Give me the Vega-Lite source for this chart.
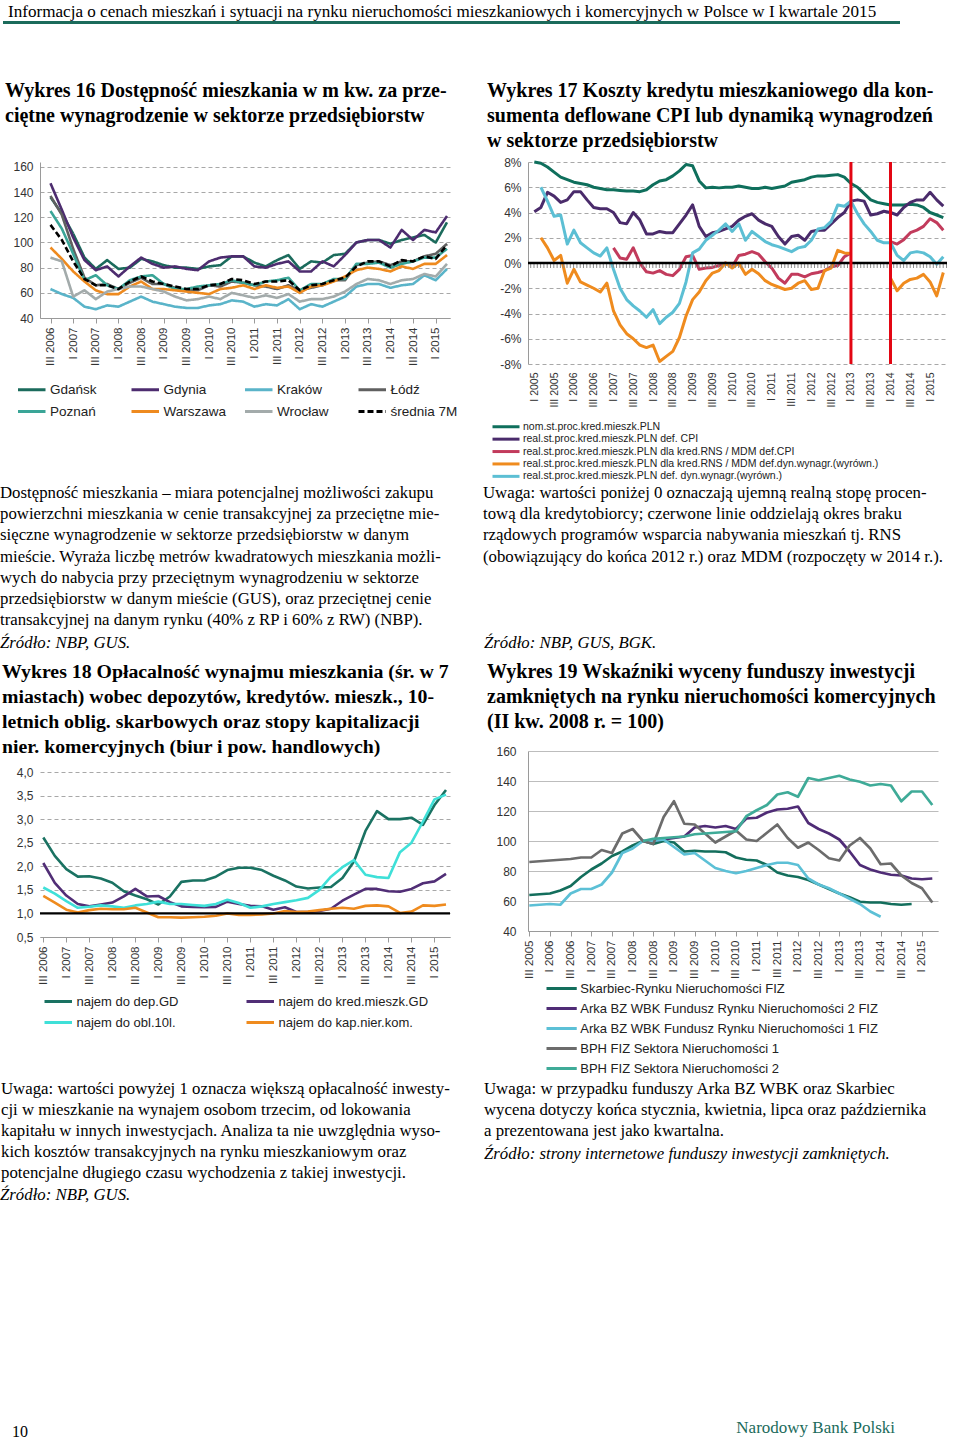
{
"$schema":"https://vega.github.io/schema/vega-lite/v6.json",
"background":"white",
"padding":0,
"spacing":0,
"config":{
 "view":{"stroke":null},
 "font":"Liberation Sans",
 "text":{"font":"Liberation Serif","color":"#000"},
 "axis":{"labelFont":"Liberation Sans","labelFontSize":12,"labelColor":"#333","domainColor":"#9a9a9a","tickColor":"#9a9a9a","gridColor":"#a8a8a8","labelOverlap":false},
 "legend":{"labelFont":"Liberation Sans","labelColor":"#222","padding":0,"symbolStrokeWidth":3,"labelLimit":600}
},
"vconcat":[
{
 "width":897,"height":40,
 "layer":[
  {"data":{"values":[{"n":0,"t":"Informacja o cenach mieszkań i sytuacji na rynku nieruchomości mieszkaniowych i komercyjnych w Polsce w I kwartale 2015"}]},
   "mark":{"type":"text","align":"left","baseline":"middle","fontSize":17.1,"dx":-32},
   "encoding":{"x":{"datum":0,"scale":{"domain":[0,1]},"axis":null},"y":{"field":"n","type":"quantitative","scale":{"domain":[-11.5,28.5],"reverse":true,"nice":false,"zero":false},"axis":null},"text":{"field":"t"}}},
  {"data":{"values":[{"n":0}]},
   "mark":{"type":"rule","color":"#1b6b5b","strokeWidth":3,"xOffset":-37,"x2Offset":-37},
   "encoding":{"x":{"datum":0},"x2":{"datum":1},"y":{"field":"n","type":"quantitative","scale":{"domain":[-22.5,17.5],"reverse":true,"nice":false,"zero":false},"axis":null}}}
 ],
 "resolve":{"scale":{"y":"independent"}}
},
{
 "columns":2,"bounds":"flush","align":"each","spacing":{"row":0,"column":78},
 "resolve":{"scale":{"color":"independent","strokeDash":"independent","strokeWidth":"independent"},"legend":{"color":"independent","strokeDash":"independent","strokeWidth":"independent"}},
 "concat":[
 {
  "width":410,"height":122,
  "data":{"values":[{"n":0,"t":"Wykres 16 Dostępność mieszkania w m kw. za prze-"},{"n":1,"t":"ciętne wynagrodzenie w sektorze przedsiębiorstw"}]},
  "mark":{"type":"text","align":"left","baseline":"middle","fontSize":20,"fontWeight":"bold","dx":-35},
  "encoding":{"x":{"datum":0,"scale":{"domain":[0,1]},"axis":null},"y":{"field":"n","type":"quantitative","scale":{"domain":[-2.04,2.84],"reverse":true,"nice":false,"zero":false},"axis":null},"text":{"field":"t"}}
 },
 {
  "width":419,"height":122,
  "data":{"values":[{"n":0,"t":"Wykres 17 Koszty kredytu mieszkaniowego dla kon-"},{"n":1,"t":"sumenta deflowane CPI lub dynamiką wynagrodzeń"},{"n":2,"t":"w sektorze przedsiębiorstw"}]},
  "mark":{"type":"text","align":"left","baseline":"middle","fontSize":20,"fontWeight":"bold","dx":-41},
  "encoding":{"x":{"datum":0,"scale":{"domain":[0,1]},"axis":null},"y":{"field":"n","type":"quantitative","scale":{"domain":[-2.04,2.84],"reverse":true,"nice":false,"zero":false},"axis":null},"text":{"field":"t"}}
 },
 {
  "width":410,"height":156,
  "data":{"values":[
{"q":"III 2006","s":"Gdańsk","v":136},{"q":"IV 2006","s":"Gdańsk","v":123},{"q":"I 2007","s":"Gdańsk","v":107},{"q":"II 2007","s":"Gdańsk","v":88},{"q":"III 2007","s":"Gdańsk","v":79},{"q":"IV 2007","s":"Gdańsk","v":86},{"q":"I 2008","s":"Gdańsk","v":79},{"q":"II 2008","s":"Gdańsk","v":80},{"q":"III 2008","s":"Gdańsk","v":87},{"q":"IV 2008","s":"Gdańsk","v":85},{"q":"I 2009","s":"Gdańsk","v":82},{"q":"II 2009","s":"Gdańsk","v":80},{"q":"III 2009","s":"Gdańsk","v":80},{"q":"IV 2009","s":"Gdańsk","v":79},{"q":"I 2010","s":"Gdańsk","v":81},{"q":"II 2010","s":"Gdańsk","v":82},{"q":"III 2010","s":"Gdańsk","v":89},{"q":"IV 2010","s":"Gdańsk","v":89},{"q":"I 2011","s":"Gdańsk","v":84},{"q":"II 2011","s":"Gdańsk","v":81},{"q":"III 2011","s":"Gdańsk","v":86},{"q":"IV 2011","s":"Gdańsk","v":90},{"q":"I 2012","s":"Gdańsk","v":79},{"q":"II 2012","s":"Gdańsk","v":85},{"q":"III 2012","s":"Gdańsk","v":84},{"q":"IV 2012","s":"Gdańsk","v":90},{"q":"I 2013","s":"Gdańsk","v":91},{"q":"II 2013","s":"Gdańsk","v":100},{"q":"III 2013","s":"Gdańsk","v":102},{"q":"IV 2013","s":"Gdańsk","v":102},{"q":"I 2014","s":"Gdańsk","v":99},{"q":"II 2014","s":"Gdańsk","v":102},{"q":"III 2014","s":"Gdańsk","v":104},{"q":"IV 2014","s":"Gdańsk","v":106},{"q":"I 2015","s":"Gdańsk","v":100},{"q":"II 2015","s":"Gdańsk","v":116},
{"q":"III 2006","s":"Gdynia","v":147},{"q":"IV 2006","s":"Gdynia","v":126},{"q":"I 2007","s":"Gdynia","v":104},{"q":"II 2007","s":"Gdynia","v":86},{"q":"III 2007","s":"Gdynia","v":78},{"q":"IV 2007","s":"Gdynia","v":81},{"q":"I 2008","s":"Gdynia","v":73},{"q":"II 2008","s":"Gdynia","v":81},{"q":"III 2008","s":"Gdynia","v":88},{"q":"IV 2008","s":"Gdynia","v":83},{"q":"I 2009","s":"Gdynia","v":80},{"q":"II 2009","s":"Gdynia","v":81},{"q":"III 2009","s":"Gdynia","v":79},{"q":"IV 2009","s":"Gdynia","v":78},{"q":"I 2010","s":"Gdynia","v":85},{"q":"II 2010","s":"Gdynia","v":88},{"q":"III 2010","s":"Gdynia","v":89},{"q":"IV 2010","s":"Gdynia","v":89},{"q":"I 2011","s":"Gdynia","v":81},{"q":"II 2011","s":"Gdynia","v":80},{"q":"III 2011","s":"Gdynia","v":83},{"q":"IV 2011","s":"Gdynia","v":85},{"q":"I 2012","s":"Gdynia","v":77},{"q":"II 2012","s":"Gdynia","v":77},{"q":"III 2012","s":"Gdynia","v":85},{"q":"IV 2012","s":"Gdynia","v":81},{"q":"I 2013","s":"Gdynia","v":90},{"q":"II 2013","s":"Gdynia","v":100},{"q":"III 2013","s":"Gdynia","v":102},{"q":"IV 2013","s":"Gdynia","v":102},{"q":"I 2014","s":"Gdynia","v":96},{"q":"II 2014","s":"Gdynia","v":110},{"q":"III 2014","s":"Gdynia","v":102},{"q":"IV 2014","s":"Gdynia","v":110},{"q":"I 2015","s":"Gdynia","v":108},{"q":"II 2015","s":"Gdynia","v":121},
{"q":"III 2006","s":"Kraków","v":63},{"q":"IV 2006","s":"Kraków","v":59},{"q":"I 2007","s":"Kraków","v":56},{"q":"II 2007","s":"Kraków","v":49},{"q":"III 2007","s":"Kraków","v":47},{"q":"IV 2007","s":"Kraków","v":50},{"q":"I 2008","s":"Kraków","v":49},{"q":"II 2008","s":"Kraków","v":53},{"q":"III 2008","s":"Kraków","v":57},{"q":"IV 2008","s":"Kraków","v":53},{"q":"I 2009","s":"Kraków","v":51},{"q":"II 2009","s":"Kraków","v":49},{"q":"III 2009","s":"Kraków","v":48},{"q":"IV 2009","s":"Kraków","v":48},{"q":"I 2010","s":"Kraków","v":50},{"q":"II 2010","s":"Kraków","v":51},{"q":"III 2010","s":"Kraków","v":54},{"q":"IV 2010","s":"Kraków","v":53},{"q":"I 2011","s":"Kraków","v":49},{"q":"II 2011","s":"Kraków","v":51},{"q":"III 2011","s":"Kraków","v":50},{"q":"IV 2011","s":"Kraków","v":55},{"q":"I 2012","s":"Kraków","v":47},{"q":"II 2012","s":"Kraków","v":51},{"q":"III 2012","s":"Kraków","v":49},{"q":"IV 2012","s":"Kraków","v":53},{"q":"I 2013","s":"Kraków","v":57},{"q":"II 2013","s":"Kraków","v":65},{"q":"III 2013","s":"Kraków","v":67},{"q":"IV 2013","s":"Kraków","v":67},{"q":"I 2014","s":"Kraków","v":64},{"q":"II 2014","s":"Kraków","v":66},{"q":"III 2014","s":"Kraków","v":67},{"q":"IV 2014","s":"Kraków","v":74},{"q":"I 2015","s":"Kraków","v":70},{"q":"II 2015","s":"Kraków","v":79},
{"q":"III 2006","s":"Łódź","v":137},{"q":"IV 2006","s":"Łódź","v":122},{"q":"I 2007","s":"Łódź","v":95},{"q":"II 2007","s":"Łódź","v":72},{"q":"III 2007","s":"Łódź","v":66},{"q":"IV 2007","s":"Łódź","v":67},{"q":"I 2008","s":"Łódź","v":63},{"q":"II 2008","s":"Łódź","v":68},{"q":"III 2008","s":"Łódź","v":72},{"q":"IV 2008","s":"Łódź","v":67},{"q":"I 2009","s":"Łódź","v":67},{"q":"II 2009","s":"Łódź","v":64},{"q":"III 2009","s":"Łódź","v":62},{"q":"IV 2009","s":"Łódź","v":62},{"q":"I 2010","s":"Łódź","v":66},{"q":"II 2010","s":"Łódź","v":65},{"q":"III 2010","s":"Łódź","v":69},{"q":"IV 2010","s":"Łódź","v":68},{"q":"I 2011","s":"Łódź","v":66},{"q":"II 2011","s":"Łódź","v":65},{"q":"III 2011","s":"Łódź","v":63},{"q":"IV 2011","s":"Łódź","v":66},{"q":"I 2012","s":"Łódź","v":62},{"q":"II 2012","s":"Łódź","v":64},{"q":"III 2012","s":"Łódź","v":66},{"q":"IV 2012","s":"Łódź","v":70},{"q":"I 2013","s":"Łódź","v":70},{"q":"II 2013","s":"Łódź","v":82},{"q":"III 2013","s":"Łódź","v":84},{"q":"IV 2013","s":"Łódź","v":85},{"q":"I 2014","s":"Łódź","v":82},{"q":"II 2014","s":"Łódź","v":85},{"q":"III 2014","s":"Łódź","v":85},{"q":"IV 2014","s":"Łódź","v":89},{"q":"I 2015","s":"Łódź","v":91},{"q":"II 2015","s":"Łódź","v":99},
{"q":"III 2006","s":"Poznań","v":125},{"q":"IV 2006","s":"Poznań","v":111},{"q":"I 2007","s":"Poznań","v":91},{"q":"II 2007","s":"Poznań","v":70},{"q":"III 2007","s":"Poznań","v":74},{"q":"IV 2007","s":"Poznań","v":66},{"q":"I 2008","s":"Poznań","v":63},{"q":"II 2008","s":"Poznań","v":70},{"q":"III 2008","s":"Poznań","v":73},{"q":"IV 2008","s":"Poznań","v":74},{"q":"I 2009","s":"Poznań","v":67},{"q":"II 2009","s":"Poznań","v":63},{"q":"III 2009","s":"Poznań","v":63},{"q":"IV 2009","s":"Poznań","v":65},{"q":"I 2010","s":"Poznań","v":66},{"q":"II 2010","s":"Poznań","v":67},{"q":"III 2010","s":"Poznań","v":70},{"q":"IV 2010","s":"Poznań","v":68},{"q":"I 2011","s":"Poznań","v":66},{"q":"II 2011","s":"Poznań","v":69},{"q":"III 2011","s":"Poznań","v":70},{"q":"IV 2011","s":"Poznań","v":72},{"q":"I 2012","s":"Poznań","v":62},{"q":"II 2012","s":"Poznań","v":67},{"q":"III 2012","s":"Poznań","v":67},{"q":"IV 2012","s":"Poznań","v":71},{"q":"I 2013","s":"Poznań","v":71},{"q":"II 2013","s":"Poznań","v":83},{"q":"III 2013","s":"Poznań","v":83},{"q":"IV 2013","s":"Poznań","v":84},{"q":"I 2014","s":"Poznań","v":80},{"q":"II 2014","s":"Poznań","v":83},{"q":"III 2014","s":"Poznań","v":85},{"q":"IV 2014","s":"Poznań","v":88},{"q":"I 2015","s":"Poznań","v":88},{"q":"II 2015","s":"Poznań","v":95},
{"q":"III 2006","s":"Warszawa","v":96},{"q":"IV 2006","s":"Warszawa","v":87},{"q":"I 2007","s":"Warszawa","v":77},{"q":"II 2007","s":"Warszawa","v":69},{"q":"III 2007","s":"Warszawa","v":62},{"q":"IV 2007","s":"Warszawa","v":59},{"q":"I 2008","s":"Warszawa","v":59},{"q":"II 2008","s":"Warszawa","v":65},{"q":"III 2008","s":"Warszawa","v":69},{"q":"IV 2008","s":"Warszawa","v":63},{"q":"I 2009","s":"Warszawa","v":63},{"q":"II 2009","s":"Warszawa","v":62},{"q":"III 2009","s":"Warszawa","v":61},{"q":"IV 2009","s":"Warszawa","v":60},{"q":"I 2010","s":"Warszawa","v":59},{"q":"II 2010","s":"Warszawa","v":63},{"q":"III 2010","s":"Warszawa","v":64},{"q":"IV 2010","s":"Warszawa","v":66},{"q":"I 2011","s":"Warszawa","v":63},{"q":"II 2011","s":"Warszawa","v":66},{"q":"III 2011","s":"Warszawa","v":64},{"q":"IV 2011","s":"Warszawa","v":65},{"q":"I 2012","s":"Warszawa","v":60},{"q":"II 2012","s":"Warszawa","v":65},{"q":"III 2012","s":"Warszawa","v":66},{"q":"IV 2012","s":"Warszawa","v":69},{"q":"I 2013","s":"Warszawa","v":73},{"q":"II 2013","s":"Warszawa","v":78},{"q":"III 2013","s":"Warszawa","v":80},{"q":"IV 2013","s":"Warszawa","v":79},{"q":"I 2014","s":"Warszawa","v":77},{"q":"II 2014","s":"Warszawa","v":81},{"q":"III 2014","s":"Warszawa","v":79},{"q":"IV 2014","s":"Warszawa","v":83},{"q":"I 2015","s":"Warszawa","v":83},{"q":"II 2015","s":"Warszawa","v":90},
{"q":"III 2006","s":"Wrocław","v":88},{"q":"IV 2006","s":"Wrocław","v":85},{"q":"I 2007","s":"Wrocław","v":57},{"q":"II 2007","s":"Wrocław","v":62},{"q":"III 2007","s":"Wrocław","v":55},{"q":"IV 2007","s":"Wrocław","v":61},{"q":"I 2008","s":"Wrocław","v":63},{"q":"II 2008","s":"Wrocław","v":65},{"q":"III 2008","s":"Wrocław","v":65},{"q":"IV 2008","s":"Wrocław","v":63},{"q":"I 2009","s":"Wrocław","v":61},{"q":"II 2009","s":"Wrocław","v":57},{"q":"III 2009","s":"Wrocław","v":54},{"q":"IV 2009","s":"Wrocław","v":55},{"q":"I 2010","s":"Wrocław","v":57},{"q":"II 2010","s":"Wrocław","v":55},{"q":"III 2010","s":"Wrocław","v":60},{"q":"IV 2010","s":"Wrocław","v":58},{"q":"I 2011","s":"Wrocław","v":56},{"q":"II 2011","s":"Wrocław","v":58},{"q":"III 2011","s":"Wrocław","v":56},{"q":"IV 2011","s":"Wrocław","v":59},{"q":"I 2012","s":"Wrocław","v":53},{"q":"II 2012","s":"Wrocław","v":55},{"q":"III 2012","s":"Wrocław","v":55},{"q":"IV 2012","s":"Wrocław","v":57},{"q":"I 2013","s":"Wrocław","v":61},{"q":"II 2013","s":"Wrocław","v":67},{"q":"III 2013","s":"Wrocław","v":71},{"q":"IV 2013","s":"Wrocław","v":70},{"q":"I 2014","s":"Wrocław","v":67},{"q":"II 2014","s":"Wrocław","v":70},{"q":"III 2014","s":"Wrocław","v":71},{"q":"IV 2014","s":"Wrocław","v":75},{"q":"I 2015","s":"Wrocław","v":73},{"q":"II 2015","s":"Wrocław","v":83},
{"q":"III 2006","s":"średnia 7M","v":114},{"q":"IV 2006","s":"średnia 7M","v":102},{"q":"I 2007","s":"średnia 7M","v":85},{"q":"II 2007","s":"średnia 7M","v":71},{"q":"III 2007","s":"średnia 7M","v":66},{"q":"IV 2007","s":"średnia 7M","v":66},{"q":"I 2008","s":"średnia 7M","v":63},{"q":"II 2008","s":"średnia 7M","v":69},{"q":"III 2008","s":"średnia 7M","v":73},{"q":"IV 2008","s":"średnia 7M","v":69},{"q":"I 2009","s":"średnia 7M","v":67},{"q":"II 2009","s":"średnia 7M","v":65},{"q":"III 2009","s":"średnia 7M","v":63},{"q":"IV 2009","s":"średnia 7M","v":63},{"q":"I 2010","s":"średnia 7M","v":66},{"q":"II 2010","s":"średnia 7M","v":67},{"q":"III 2010","s":"średnia 7M","v":71},{"q":"IV 2010","s":"średnia 7M","v":70},{"q":"I 2011","s":"średnia 7M","v":67},{"q":"II 2011","s":"średnia 7M","v":69},{"q":"III 2011","s":"średnia 7M","v":69},{"q":"IV 2011","s":"średnia 7M","v":70},{"q":"I 2012","s":"średnia 7M","v":62},{"q":"II 2012","s":"średnia 7M","v":66},{"q":"III 2012","s":"średnia 7M","v":67},{"q":"IV 2012","s":"średnia 7M","v":70},{"q":"I 2013","s":"średnia 7M","v":72},{"q":"II 2013","s":"średnia 7M","v":81},{"q":"III 2013","s":"średnia 7M","v":85},{"q":"IV 2013","s":"średnia 7M","v":85},{"q":"I 2014","s":"średnia 7M","v":81},{"q":"II 2014","s":"średnia 7M","v":86},{"q":"III 2014","s":"średnia 7M","v":85},{"q":"IV 2014","s":"średnia 7M","v":89},{"q":"I 2015","s":"średnia 7M","v":87},{"q":"II 2015","s":"średnia 7M","v":98}
  ]},
  "mark":{"type":"line","strokeWidth":2.6,"strokeJoin":"round"},
  "encoding":{
   "x":{"field":"q","type":"ordinal","sort":null,"scale":{"type":"point","padding":0.596,"align":0.778},"axis":{"values":["III 2006","I 2007","III 2007","I 2008","III 2008","I 2009","III 2009","I 2010","III 2010","I 2011","III 2011","I 2012","III 2012","I 2013","III 2013","I 2014","III 2014","I 2015"],"labelAngle":-90,"labelFontSize":11.5,"labelPadding":4,"tickSize":5,"title":null,"grid":false}},
   "y":{"field":"v","type":"quantitative","scale":{"domain":[40,163.97],"nice":false,"zero":false},"axis":{"values":[40,60,80,100,120,140,160],"tickCount":50,"title":null,"grid":true,"gridDash":[4,3],"ticks":false,"labelPadding":7}},
   "color":{"field":"s","type":"nominal","scale":{"domain":["Gdańsk","Gdynia","Kraków","Łódź","Poznań","Warszawa","Wrocław","średnia 7M"],"range":["#1b6b5c","#4d2c6f","#5ab4c9","#606060","#3aa597","#ee8a1f","#a3abab","#000000"]},
     "legend":{"orient":"none","legendX":-7,"legendY":220.5,"columns":4,"direction":"horizontal","title":null,"symbolType":"M-4,0H1","symbolSize":121,"symbolStrokeWidth":3,"labelFontSize":13.5,"labelOffset":3,"columnPadding":8.5,"rowPadding":8,"gridAlign":"all"}},
   "strokeDash":{"field":"s","type":"nominal","scale":{"domain":["Gdańsk","Gdynia","Kraków","Łódź","Poznań","Warszawa","Wrocław","średnia 7M"],"range":[[1,0],[1,0],[1,0],[1,0],[1,0],[1,0],[1,0],[6,3]]},
     "legend":{"orient":"none","legendX":-7,"legendY":220.5,"columns":4,"direction":"horizontal","title":null,"symbolType":"M-4,0H1","symbolSize":121,"symbolStrokeWidth":3,"labelFontSize":13.5,"labelOffset":3,"columnPadding":8.5,"rowPadding":8,"gridAlign":"all"}}
  }
 },
 {
  "width":419,"height":202,
  "layer":[
  {
   "data":{"values":[
{"m":"2005-01","s":"a","v":8.0},{"m":"2005-03","s":"a","v":7.9},{"m":"2005-05","s":"a","v":7.6},{"m":"2005-07","s":"a","v":7.2},{"m":"2005-09","s":"a","v":6.8},{"m":"2005-11","s":"a","v":6.6},{"m":"2006-01","s":"a","v":6.4},{"m":"2006-03","s":"a","v":6.3},{"m":"2006-05","s":"a","v":6.2},{"m":"2006-07","s":"a","v":6.0},{"m":"2006-09","s":"a","v":5.9},{"m":"2006-11","s":"a","v":5.8},{"m":"2007-01","s":"a","v":5.8},{"m":"2007-03","s":"a","v":5.75},{"m":"2007-05","s":"a","v":5.7},{"m":"2007-07","s":"a","v":5.7},{"m":"2007-09","s":"a","v":5.65},{"m":"2007-11","s":"a","v":5.8},{"m":"2008-01","s":"a","v":6.2},{"m":"2008-03","s":"a","v":6.5},{"m":"2008-05","s":"a","v":6.6},{"m":"2008-07","s":"a","v":6.9},{"m":"2008-09","s":"a","v":7.3},{"m":"2008-11","s":"a","v":7.8},{"m":"2009-01","s":"a","v":7.7},{"m":"2009-03","s":"a","v":6.5},{"m":"2009-05","s":"a","v":5.95},{"m":"2009-07","s":"a","v":6.0},{"m":"2009-09","s":"a","v":5.95},{"m":"2009-11","s":"a","v":6.0},{"m":"2010-01","s":"a","v":6.0},{"m":"2010-03","s":"a","v":6.1},{"m":"2010-05","s":"a","v":6.0},{"m":"2010-07","s":"a","v":5.9},{"m":"2010-09","s":"a","v":5.9},{"m":"2010-11","s":"a","v":6.0},{"m":"2011-01","s":"a","v":5.9},{"m":"2011-03","s":"a","v":6.0},{"m":"2011-05","s":"a","v":6.1},{"m":"2011-07","s":"a","v":6.4},{"m":"2011-09","s":"a","v":6.5},{"m":"2011-11","s":"a","v":6.6},{"m":"2012-01","s":"a","v":6.8},{"m":"2012-03","s":"a","v":6.9},{"m":"2012-05","s":"a","v":6.9},{"m":"2012-07","s":"a","v":6.95},{"m":"2012-09","s":"a","v":7.0},{"m":"2012-11","s":"a","v":6.8},{"m":"2013-01","s":"a","v":6.3},{"m":"2013-03","s":"a","v":6.0},{"m":"2013-05","s":"a","v":5.5},{"m":"2013-07","s":"a","v":5.0},{"m":"2013-09","s":"a","v":4.8},{"m":"2013-11","s":"a","v":4.7},{"m":"2014-01","s":"a","v":4.6},{"m":"2014-03","s":"a","v":4.6},{"m":"2014-05","s":"a","v":4.6},{"m":"2014-07","s":"a","v":4.65},{"m":"2014-09","s":"a","v":4.6},{"m":"2014-11","s":"a","v":4.4},{"m":"2015-01","s":"a","v":4.0},{"m":"2015-03","s":"a","v":3.8},{"m":"2015-05","s":"a","v":3.6},
{"m":"2005-01","s":"b","v":4.05},{"m":"2005-03","s":"b","v":4.4},{"m":"2005-05","s":"b","v":5.6},{"m":"2005-07","s":"b","v":5.3},{"m":"2005-09","s":"b","v":4.8},{"m":"2005-11","s":"b","v":5.0},{"m":"2006-01","s":"b","v":5.65},{"m":"2006-03","s":"b","v":5.65},{"m":"2006-05","s":"b","v":5.0},{"m":"2006-07","s":"b","v":4.4},{"m":"2006-09","s":"b","v":4.3},{"m":"2006-11","s":"b","v":4.3},{"m":"2007-01","s":"b","v":4.0},{"m":"2007-03","s":"b","v":3.2},{"m":"2007-05","s":"b","v":3.1},{"m":"2007-07","s":"b","v":4.0},{"m":"2007-09","s":"b","v":3.4},{"m":"2007-11","s":"b","v":2.3},{"m":"2008-01","s":"b","v":2.3},{"m":"2008-03","s":"b","v":2.5},{"m":"2008-05","s":"b","v":2.4},{"m":"2008-07","s":"b","v":2.4},{"m":"2008-09","s":"b","v":3.1},{"m":"2008-11","s":"b","v":3.8},{"m":"2009-01","s":"b","v":4.6},{"m":"2009-03","s":"b","v":2.9},{"m":"2009-05","s":"b","v":2.1},{"m":"2009-07","s":"b","v":2.4},{"m":"2009-09","s":"b","v":2.5},{"m":"2009-11","s":"b","v":2.7},{"m":"2010-01","s":"b","v":2.9},{"m":"2010-03","s":"b","v":3.4},{"m":"2010-05","s":"b","v":3.7},{"m":"2010-07","s":"b","v":3.9},{"m":"2010-09","s":"b","v":3.4},{"m":"2010-11","s":"b","v":3.1},{"m":"2011-01","s":"b","v":2.9},{"m":"2011-03","s":"b","v":2.1},{"m":"2011-05","s":"b","v":1.5},{"m":"2011-07","s":"b","v":2.1},{"m":"2011-09","s":"b","v":2.2},{"m":"2011-11","s":"b","v":1.8},{"m":"2012-01","s":"b","v":2.5},{"m":"2012-03","s":"b","v":2.6},{"m":"2012-05","s":"b","v":2.6},{"m":"2012-07","s":"b","v":3.1},{"m":"2012-09","s":"b","v":3.6},{"m":"2012-11","s":"b","v":4.0},{"m":"2013-01","s":"b","v":4.9},{"m":"2013-03","s":"b","v":5.0},{"m":"2013-05","s":"b","v":4.9},{"m":"2013-07","s":"b","v":3.8},{"m":"2013-09","s":"b","v":3.9},{"m":"2013-11","s":"b","v":4.1},{"m":"2014-01","s":"b","v":4.0},{"m":"2014-03","s":"b","v":3.8},{"m":"2014-05","s":"b","v":4.4},{"m":"2014-07","s":"b","v":4.8},{"m":"2014-09","s":"b","v":5.0},{"m":"2014-11","s":"b","v":5.0},{"m":"2015-01","s":"b","v":5.6},{"m":"2015-03","s":"b","v":5.0},{"m":"2015-05","s":"b","v":4.5},
{"m":"2007-01","s":"c","v":1.2},{"m":"2007-03","s":"c","v":0.4},{"m":"2007-05","s":"c","v":0.3},{"m":"2007-07","s":"c","v":1.2},{"m":"2007-09","s":"c","v":0.0},{"m":"2007-11","s":"c","v":-0.7},{"m":"2008-01","s":"c","v":-0.8},{"m":"2008-03","s":"c","v":-0.6},{"m":"2008-05","s":"c","v":-0.9},{"m":"2008-07","s":"c","v":-1.0},{"m":"2008-09","s":"c","v":-0.5},{"m":"2008-11","s":"c","v":0.5},{"m":"2009-01","s":"c","v":0.6},{"m":"2009-03","s":"c","v":-0.5},{"m":"2009-05","s":"c","v":-0.4},{"m":"2009-07","s":"c","v":-0.35},{"m":"2009-09","s":"c","v":-0.2},{"m":"2009-11","s":"c","v":0.0},{"m":"2010-01","s":"c","v":-0.3},{"m":"2010-03","s":"c","v":0.6},{"m":"2010-05","s":"c","v":0.7},{"m":"2010-07","s":"c","v":0.9},{"m":"2010-09","s":"c","v":0.7},{"m":"2010-11","s":"c","v":0.1},{"m":"2011-01","s":"c","v":-0.4},{"m":"2011-03","s":"c","v":-1.2},{"m":"2011-05","s":"c","v":-1.6},{"m":"2011-07","s":"c","v":-0.9},{"m":"2011-09","s":"c","v":-0.9},{"m":"2011-11","s":"c","v":-1.1},{"m":"2012-01","s":"c","v":-0.85},{"m":"2012-03","s":"c","v":-0.75},{"m":"2012-05","s":"c","v":-0.6},{"m":"2012-07","s":"c","v":-0.3},{"m":"2012-09","s":"c","v":-0.2},{"m":"2012-11","s":"c","v":0.5},{"m":"2013-01","s":"c","v":0.8},
{"m":"2014-01","s":"c","v":1.7,"g":2},{"m":"2014-03","s":"c","v":1.5,"g":2},{"m":"2014-05","s":"c","v":1.85,"g":2},{"m":"2014-07","s":"c","v":2.4,"g":2},{"m":"2014-09","s":"c","v":2.6,"g":2},{"m":"2014-11","s":"c","v":2.9,"g":2},{"m":"2015-01","s":"c","v":3.5,"g":2},{"m":"2015-03","s":"c","v":3.2,"g":2},{"m":"2015-05","s":"c","v":2.6,"g":2},
{"m":"2005-03","s":"d","v":2.0},{"m":"2005-05","s":"d","v":1.2},{"m":"2005-07","s":"d","v":0.2},{"m":"2005-09","s":"d","v":0.6},{"m":"2005-11","s":"d","v":-1.6},{"m":"2006-01","s":"d","v":-0.5},{"m":"2006-03","s":"d","v":-1.5},{"m":"2006-05","s":"d","v":-1.75},{"m":"2006-07","s":"d","v":-2.0},{"m":"2006-09","s":"d","v":-2.3},{"m":"2006-11","s":"d","v":-1.6},{"m":"2007-01","s":"d","v":-3.8},{"m":"2007-03","s":"d","v":-4.9},{"m":"2007-05","s":"d","v":-5.6},{"m":"2007-07","s":"d","v":-6.0},{"m":"2007-09","s":"d","v":-6.5},{"m":"2007-11","s":"d","v":-6.7},{"m":"2008-01","s":"d","v":-6.5},{"m":"2008-03","s":"d","v":-7.8},{"m":"2008-05","s":"d","v":-7.4},{"m":"2008-07","s":"d","v":-7.0},{"m":"2008-09","s":"d","v":-5.9},{"m":"2008-11","s":"d","v":-4.2},{"m":"2009-01","s":"d","v":-2.9},{"m":"2009-03","s":"d","v":-2.3},{"m":"2009-05","s":"d","v":-1.4},{"m":"2009-07","s":"d","v":-0.8},{"m":"2009-09","s":"d","v":-0.6},{"m":"2009-11","s":"d","v":0.0},{"m":"2010-01","s":"d","v":-0.4},{"m":"2010-03","s":"d","v":0.0},{"m":"2010-05","s":"d","v":-0.9},{"m":"2010-07","s":"d","v":-0.5},{"m":"2010-09","s":"d","v":-0.85},{"m":"2010-11","s":"d","v":-1.4},{"m":"2011-01","s":"d","v":-1.7},{"m":"2011-03","s":"d","v":-1.9},{"m":"2011-05","s":"d","v":-2.1},{"m":"2011-07","s":"d","v":-2.0},{"m":"2011-09","s":"d","v":-1.6},{"m":"2011-11","s":"d","v":-1.4},{"m":"2012-01","s":"d","v":-2.1},{"m":"2012-03","s":"d","v":-2.0},{"m":"2012-05","s":"d","v":-0.6},{"m":"2012-07","s":"d","v":-0.4},{"m":"2012-09","s":"d","v":1.0},{"m":"2012-11","s":"d","v":0.8},{"m":"2013-01","s":"d","v":0.75},
{"m":"2014-01","s":"d","v":-1.2,"g":2},{"m":"2014-03","s":"d","v":-2.2,"g":2},{"m":"2014-05","s":"d","v":-1.6,"g":2},{"m":"2014-07","s":"d","v":-1.3,"g":2},{"m":"2014-09","s":"d","v":-1.2,"g":2},{"m":"2014-11","s":"d","v":-0.9,"g":2},{"m":"2015-01","s":"d","v":-1.5,"g":2},{"m":"2015-03","s":"d","v":-2.6,"g":2},{"m":"2015-05","s":"d","v":-0.75,"g":2},
{"m":"2005-03","s":"e","v":6.0},{"m":"2005-05","s":"e","v":4.9},{"m":"2005-07","s":"e","v":3.7},{"m":"2005-09","s":"e","v":3.8},{"m":"2005-11","s":"e","v":1.5},{"m":"2006-01","s":"e","v":2.6},{"m":"2006-03","s":"e","v":1.6},{"m":"2006-05","s":"e","v":1.2},{"m":"2006-07","s":"e","v":0.8},{"m":"2006-09","s":"e","v":0.55},{"m":"2006-11","s":"e","v":1.2},{"m":"2007-01","s":"e","v":-0.5},{"m":"2007-03","s":"e","v":-2.0},{"m":"2007-05","s":"e","v":-2.9},{"m":"2007-07","s":"e","v":-3.4},{"m":"2007-09","s":"e","v":-3.8},{"m":"2007-11","s":"e","v":-4.3},{"m":"2008-01","s":"e","v":-3.7},{"m":"2008-03","s":"e","v":-4.8},{"m":"2008-05","s":"e","v":-4.3},{"m":"2008-07","s":"e","v":-3.9},{"m":"2008-09","s":"e","v":-3.2},{"m":"2008-11","s":"e","v":-1.5},{"m":"2009-01","s":"e","v":0.8},{"m":"2009-03","s":"e","v":1.1},{"m":"2009-05","s":"e","v":1.8},{"m":"2009-07","s":"e","v":2.2},{"m":"2009-09","s":"e","v":2.6},{"m":"2009-11","s":"e","v":3.1},{"m":"2010-01","s":"e","v":2.5},{"m":"2010-03","s":"e","v":3.1},{"m":"2010-05","s":"e","v":1.8},{"m":"2010-07","s":"e","v":2.5},{"m":"2010-09","s":"e","v":2.1},{"m":"2010-11","s":"e","v":1.7},{"m":"2011-01","s":"e","v":1.45},{"m":"2011-03","s":"e","v":1.3},{"m":"2011-05","s":"e","v":1.1},{"m":"2011-07","s":"e","v":0.9},{"m":"2011-09","s":"e","v":1.2},{"m":"2011-11","s":"e","v":1.3},{"m":"2012-01","s":"e","v":1.8},{"m":"2012-03","s":"e","v":2.7},{"m":"2012-05","s":"e","v":2.8},{"m":"2012-07","s":"e","v":3.3},{"m":"2012-09","s":"e","v":4.6},{"m":"2012-11","s":"e","v":4.5},{"m":"2013-01","s":"e","v":4.9},{"m":"2013-03","s":"e","v":3.9},{"m":"2013-05","s":"e","v":3.1},{"m":"2013-07","s":"e","v":2.5},{"m":"2013-09","s":"e","v":1.8},{"m":"2013-11","s":"e","v":1.6},{"m":"2014-01","s":"e","v":1.6},{"m":"2014-03","s":"e","v":0.6},{"m":"2014-05","s":"e","v":0.2},{"m":"2014-07","s":"e","v":0.8},{"m":"2014-09","s":"e","v":0.9},{"m":"2014-11","s":"e","v":0.8},{"m":"2015-01","s":"e","v":0.5},{"m":"2015-03","s":"e","v":-0.1},{"m":"2015-05","s":"e","v":0.5}
   ]},
   "mark":{"type":"line","strokeJoin":"round"},
   "encoding":{
    "x":{"field":"m","type":"ordinal","sort":"ascending","scale":{"type":"point","padding":0.758,"align":0.63},"axis":{"values":["2005-01","2005-07","2006-01","2006-07","2007-01","2007-07","2008-01","2008-07","2009-01","2009-07","2010-01","2010-07","2011-01","2011-07","2012-01","2012-07","2013-01","2013-07","2014-01","2014-07","2015-01"],"labelExpr":"(substring(datum.value,5,7)=='01' ? 'I ' : 'III ') + substring(datum.value,0,4)","labelAngle":-90,"labelFontSize":10.5,"labelPadding":8,"domain":false,"ticks":false,"title":null,"grid":false}},
    "y":{"field":"v","type":"quantitative","scale":{"domain":[-8,8],"nice":false,"zero":false},"axis":{"values":[-8,-6,-4,-2,0,2,4,6,8],"tickCount":50,"labelExpr":"datum.value + '%'","title":null,"grid":true,"gridDash":[4,3],"ticks":false,"labelPadding":7}},
    "color":{"field":"s","type":"nominal","scale":{"domain":["a","b","c","d","e"],"range":["#0f6f5c","#4a2b6b","#c23b5c","#ef8b1e","#5cbfd4"]},
      "legend":{"orient":"none","legendX":-19,"legendY":258.75,"direction":"vertical","title":null,"symbolType":"M-5,0H1","symbolSize":81,"symbolStrokeWidth":3,"labelFontSize":10.5,"labelOffset":2,"rowPadding":0.4,
       "labelExpr":"datum.label=='a' ? 'nom.st.proc.kred.mieszk.PLN' : datum.label=='b' ? 'real.st.proc.kred.mieszk.PLN def. CPI' : datum.label=='c' ? 'real.st.proc.kred.mieszk.PLN dla kred.RNS / MDM def.CPI' : datum.label=='d' ? 'real.st.proc.kred.mieszk.PLN dla kred.RNS / MDM def.dyn.wynagr.(wyrówn.)' : 'real.st.proc.kred.mieszk.PLN def. dyn.wynagr.(wyrówn.)'"}},
    "strokeWidth":{"field":"s","type":"nominal","scale":{"domain":["a","b","c","d","e"],"range":[3,3,3,2,3]},"legend":null},
    "detail":{"field":"g","type":"nominal"}
   }
  },
  {"data":{"values":[{"z":0}]},"mark":{"type":"rule","color":"#8a8a8a","strokeWidth":4,"strokeDash":[1,2.3],"yOffset":3},"encoding":{"y":{"datum":0}}},
  {"data":{"values":[{"z":0}]},"mark":{"type":"rule","color":"#000000","strokeWidth":2.5},"encoding":{"y":{"datum":0}}},
  {"data":{"values":[{"m":"2013-01"},{"m":"2014-01"}]},"mark":{"type":"rule","color":"#e30613","strokeWidth":3},"encoding":{"x":{"field":"m","type":"ordinal"}}}
  ]
 },
 {
  "width":410,"height":387,
  "layer":[
   {"data":{"values":[
    {"n":0,"t":"Dostępność mieszkania – miara potencjalnej możliwości zakupu"},
    {"n":1,"t":"powierzchni mieszkania w cenie transakcyjnej za przeciętne mie-"},
    {"n":2,"t":"sięczne wynagrodzenie w sektorze przedsiębiorstw w danym"},
    {"n":3,"t":"mieście. Wyraża liczbę metrów kwadratowych mieszkania możli-"},
    {"n":4,"t":"wych do nabycia przy przeciętnym wynagrodzeniu w sektorze"},
    {"n":5,"t":"przedsiębiorstw w danym mieście (GUS), oraz przeciętnej cenie"},
    {"n":6,"t":"transakcyjnej na danym rynku (40% z RP i 60% z RW) (NBP)."}]},
    "mark":{"type":"text","align":"left","baseline":"middle","fontSize":16.8,"dx":-40},
    "encoding":{"x":{"datum":0,"scale":{"domain":[0,1]},"axis":null},"y":{"field":"n","type":"quantitative","scale":{"domain":[-6.094,12.187],"reverse":true,"nice":false,"zero":false},"axis":null},"text":{"field":"t"}}},
   {"data":{"values":[{"n":0,"t":"Źródło: NBP, GUS."}]},
    "mark":{"type":"text","align":"left","baseline":"middle","fontSize":16.8,"fontStyle":"italic","dx":-40},
    "encoding":{"x":{"datum":0},"y":{"field":"n","type":"quantitative","scale":{"domain":[-279,108],"reverse":true,"nice":false,"zero":false},"axis":null},"text":{"field":"t"}}},
   {"data":{"values":[
    {"n":0,"t":"Wykres 18 Opłacalność wynajmu mieszkania (śr. w 7"},
    {"n":1,"t":"miastach) wobec depozytów, kredytów. mieszk., 10-"},
    {"n":2,"t":"letnich oblig. skarbowych oraz stopy kapitalizacji"},
    {"n":3,"t":"nier. komercyjnych (biur i pow. handlowych)"}]},
    "mark":{"type":"text","align":"left","baseline":"middle","fontSize":19.8,"fontWeight":"bold","dx":-38},
    "encoding":{"x":{"datum":0},"y":{"field":"n","type":"quantitative","scale":{"domain":[-12.32,3.16],"reverse":true,"nice":false,"zero":false},"axis":null},"text":{"field":"t"}}}
  ],
  "resolve":{"scale":{"y":"independent"}}
 },
 {
  "width":419,"height":387,
  "layer":[
   {"data":{"values":[
    {"n":0,"t":"Uwaga: wartości poniżej 0 oznaczają ujemną realną stopę procen-"},
    {"n":1,"t":"tową dla kredytobiorcy; czerwone linie oddzielają okres braku"},
    {"n":2,"t":"rządowych programów wsparcia nabywania mieszkań tj. RNS"},
    {"n":3,"t":"(obowiązujący do końca 2012 r.) oraz MDM (rozpoczęty w 2014 r.)."}]},
    "mark":{"type":"text","align":"left","baseline":"middle","fontSize":16.8,"dx":-45},
    "encoding":{"x":{"datum":0,"scale":{"domain":[0,1]},"axis":null},"y":{"field":"n","type":"quantitative","scale":{"domain":[-6.085,12.17],"reverse":true,"nice":false,"zero":false},"axis":null},"text":{"field":"t"}}},
   {"data":{"values":[{"n":0,"t":"Źródło: NBP, GUS, BGK."}]},
    "mark":{"type":"text","align":"left","baseline":"middle","fontSize":16.8,"fontStyle":"italic","dx":-44},
    "encoding":{"x":{"datum":0},"y":{"field":"n","type":"quantitative","scale":{"domain":[-279,108],"reverse":true,"nice":false,"zero":false},"axis":null},"text":{"field":"t"}}},
   {"data":{"values":[
    {"n":0,"t":"Wykres 19 Wskaźniki wyceny funduszy inwestycji"},
    {"n":1,"t":"zamkniętych na rynku nieruchomości komercyjnych"},
    {"n":2,"t":"(II kw. 2008 r. = 100)"}]},
    "mark":{"type":"text","align":"left","baseline":"middle","fontSize":20,"fontWeight":"bold","dx":-41},
    "encoding":{"x":{"datum":0},"y":{"field":"n","type":"quantitative","scale":{"domain":[-12.32,3.16],"reverse":true,"nice":false,"zero":false},"axis":null},"text":{"field":"t"}}}
  ],
  "resolve":{"scale":{"y":"independent"}}
 },
 {
  "width":410,"height":186,
  "layer":[
  {
   "data":{"values":[
{"q":"III 2006","s":"a","v":2.61},{"q":"IV 2006","s":"a","v":2.22},{"q":"I 2007","s":"a","v":1.94},{"q":"II 2007","s":"a","v":1.78},{"q":"III 2007","s":"a","v":1.79},{"q":"IV 2007","s":"a","v":1.74},{"q":"I 2008","s":"a","v":1.65},{"q":"II 2008","s":"a","v":1.47},{"q":"III 2008","s":"a","v":1.38},{"q":"IV 2008","s":"a","v":1.3},{"q":"I 2009","s":"a","v":1.19},{"q":"II 2009","s":"a","v":1.36},{"q":"III 2009","s":"a","v":1.67},{"q":"IV 2009","s":"a","v":1.7},{"q":"I 2010","s":"a","v":1.7},{"q":"II 2010","s":"a","v":1.78},{"q":"III 2010","s":"a","v":1.92},{"q":"IV 2010","s":"a","v":1.97},{"q":"I 2011","s":"a","v":1.97},{"q":"II 2011","s":"a","v":1.92},{"q":"III 2011","s":"a","v":1.8},{"q":"IV 2011","s":"a","v":1.7},{"q":"I 2012","s":"a","v":1.57},{"q":"II 2012","s":"a","v":1.53},{"q":"III 2012","s":"a","v":1.55},{"q":"IV 2012","s":"a","v":1.56},{"q":"I 2013","s":"a","v":1.75},{"q":"II 2013","s":"a","v":2.1},{"q":"III 2013","s":"a","v":2.75},{"q":"IV 2013","s":"a","v":3.17},{"q":"I 2014","s":"a","v":3.0},{"q":"II 2014","s":"a","v":3.0},{"q":"III 2014","s":"a","v":3.03},{"q":"IV 2014","s":"a","v":2.88},{"q":"I 2015","s":"a","v":3.3},{"q":"II 2015","s":"a","v":3.62},
{"q":"III 2006","s":"b","v":2.07},{"q":"IV 2006","s":"b","v":1.65},{"q":"I 2007","s":"b","v":1.38},{"q":"II 2007","s":"b","v":1.2},{"q":"III 2007","s":"b","v":1.15},{"q":"IV 2007","s":"b","v":1.19},{"q":"I 2008","s":"b","v":1.23},{"q":"II 2008","s":"b","v":1.36},{"q":"III 2008","s":"b","v":1.52},{"q":"IV 2008","s":"b","v":1.36},{"q":"I 2009","s":"b","v":1.37},{"q":"II 2009","s":"b","v":1.24},{"q":"III 2009","s":"b","v":1.15},{"q":"IV 2009","s":"b","v":1.14},{"q":"I 2010","s":"b","v":1.13},{"q":"II 2010","s":"b","v":1.14},{"q":"III 2010","s":"b","v":1.25},{"q":"IV 2010","s":"b","v":1.2},{"q":"I 2011","s":"b","v":1.16},{"q":"II 2011","s":"b","v":1.15},{"q":"III 2011","s":"b","v":1.08},{"q":"IV 2011","s":"b","v":1.13},{"q":"I 2012","s":"b","v":1.03},{"q":"II 2012","s":"b","v":1.03},{"q":"III 2012","s":"b","v":1.05},{"q":"IV 2012","s":"b","v":1.1},{"q":"I 2013","s":"b","v":1.27},{"q":"II 2013","s":"b","v":1.4},{"q":"III 2013","s":"b","v":1.52},{"q":"IV 2013","s":"b","v":1.52},{"q":"I 2014","s":"b","v":1.47},{"q":"II 2014","s":"b","v":1.46},{"q":"III 2014","s":"b","v":1.52},{"q":"IV 2014","s":"b","v":1.64},{"q":"I 2015","s":"b","v":1.68},{"q":"II 2015","s":"b","v":1.84},
{"q":"III 2006","s":"c","v":1.55},{"q":"IV 2006","s":"c","v":1.42},{"q":"I 2007","s":"c","v":1.26},{"q":"II 2007","s":"c","v":1.12},{"q":"III 2007","s":"c","v":1.14},{"q":"IV 2007","s":"c","v":1.17},{"q":"I 2008","s":"c","v":1.15},{"q":"II 2008","s":"c","v":1.12},{"q":"III 2008","s":"c","v":1.17},{"q":"IV 2008","s":"c","v":1.2},{"q":"I 2009","s":"c","v":1.25},{"q":"II 2009","s":"c","v":1.2},{"q":"III 2009","s":"c","v":1.2},{"q":"IV 2009","s":"c","v":1.18},{"q":"I 2010","s":"c","v":1.16},{"q":"II 2010","s":"c","v":1.2},{"q":"III 2010","s":"c","v":1.29},{"q":"IV 2010","s":"c","v":1.22},{"q":"I 2011","s":"c","v":1.12},{"q":"II 2011","s":"c","v":1.15},{"q":"III 2011","s":"c","v":1.2},{"q":"IV 2011","s":"c","v":1.24},{"q":"I 2012","s":"c","v":1.28},{"q":"II 2012","s":"c","v":1.33},{"q":"III 2012","s":"c","v":1.5},{"q":"IV 2012","s":"c","v":1.78},{"q":"I 2013","s":"c","v":1.98},{"q":"II 2013","s":"c","v":2.13},{"q":"III 2013","s":"c","v":1.82},{"q":"IV 2013","s":"c","v":1.77},{"q":"I 2014","s":"c","v":1.75},{"q":"II 2014","s":"c","v":2.3},{"q":"III 2014","s":"c","v":2.5},{"q":"IV 2014","s":"c","v":2.95},{"q":"I 2015","s":"c","v":3.42},{"q":"II 2015","s":"c","v":3.52},
{"q":"III 2006","s":"d","v":1.37},{"q":"IV 2006","s":"d","v":1.23},{"q":"I 2007","s":"d","v":1.08},{"q":"II 2007","s":"d","v":1.02},{"q":"III 2007","s":"d","v":1.07},{"q":"IV 2007","s":"d","v":1.1},{"q":"I 2008","s":"d","v":1.09},{"q":"II 2008","s":"d","v":1.09},{"q":"III 2008","s":"d","v":1.12},{"q":"IV 2008","s":"d","v":1.02},{"q":"I 2009","s":"d","v":0.92},{"q":"II 2009","s":"d","v":0.92},{"q":"III 2009","s":"d","v":0.91},{"q":"IV 2009","s":"d","v":0.92},{"q":"I 2010","s":"d","v":0.93},{"q":"II 2010","s":"d","v":0.95},{"q":"III 2010","s":"d","v":1.0},{"q":"IV 2010","s":"d","v":0.97},{"q":"I 2011","s":"d","v":0.97},{"q":"II 2011","s":"d","v":0.98},{"q":"III 2011","s":"d","v":1.0},{"q":"IV 2011","s":"d","v":1.05},{"q":"I 2012","s":"d","v":1.03},{"q":"II 2012","s":"d","v":1.04},{"q":"III 2012","s":"d","v":1.07},{"q":"IV 2012","s":"d","v":1.1},{"q":"I 2013","s":"d","v":1.12},{"q":"II 2013","s":"d","v":1.1},{"q":"III 2013","s":"d","v":1.16},{"q":"IV 2013","s":"d","v":1.17},{"q":"I 2014","s":"d","v":1.15},{"q":"II 2014","s":"d","v":1.01},{"q":"III 2014","s":"d","v":1.04},{"q":"IV 2014","s":"d","v":1.17},{"q":"I 2015","s":"d","v":1.16},{"q":"II 2015","s":"d","v":1.19}
   ]},
   "mark":{"type":"line","strokeWidth":2.6,"strokeJoin":"round"},
   "encoding":{
    "x":{"field":"q","type":"ordinal","sort":null,"scale":{"type":"point","padding":0.317,"align":0.452},"axis":{"values":["III 2006","I 2007","III 2007","I 2008","III 2008","I 2009","III 2009","I 2010","III 2010","I 2011","III 2011","I 2012","III 2012","I 2013","III 2013","I 2014","III 2014","I 2015"],"labelAngle":-90,"labelFontSize":11.5,"labelPadding":4,"tickSize":5,"title":null,"grid":false}},
    "y":{"field":"v","type":"quantitative","scale":{"domain":[0.5,4.4455],"nice":false,"zero":false},"axis":{"values":[0.5,1,1.5,2,2.5,3,3.5,4],"tickCount":50,"labelExpr":"replace(format(datum.value,'.1f'),'.',',')","title":null,"grid":true,"gridDash":[4,3],"ticks":false,"domain":false,"labelPadding":7}},
    "color":{"field":"s","type":"nominal","scale":{"domain":["a","b","c","d"],"range":["#1a7262","#512e76","#3fe0d8","#ef8b1e"]},
      "legend":{"orient":"none","legendX":19.5,"legendY":243.5,"columns":2,"direction":"horizontal","title":null,"symbolType":"M-4,0H1","symbolSize":121,"symbolStrokeWidth":3,"labelFontSize":13,"labelOffset":3,"columnPadding":14,"rowPadding":7,"gridAlign":"all",
       "labelExpr":"datum.label=='a' ? 'najem do dep.GD' : datum.label=='b' ? 'najem do kred.mieszk.GD' : datum.label=='c' ? 'najem do obl.10l.' : 'najem do kap.nier.kom.'"}}
   }
  },
  {"data":{"values":[{"z":1}]},"mark":{"type":"rule","color":"#000000","strokeWidth":2.2},"encoding":{"y":{"datum":1}}}
  ]
 },
 {
  "width":410,"height":180,
  "data":{"values":[
{"q":"III 2005","s":"a","v":64},{"q":"IV 2005","s":"a","v":64.5},{"q":"I 2006","s":"a","v":65},{"q":"II 2006","s":"a","v":67},{"q":"III 2006","s":"a","v":70},{"q":"IV 2006","s":"a","v":76},{"q":"I 2007","s":"a","v":81},{"q":"II 2007","s":"a","v":85},{"q":"III 2007","s":"a","v":90},{"q":"IV 2007","s":"a","v":93},{"q":"I 2008","s":"a","v":97},{"q":"II 2008","s":"a","v":100},{"q":"III 2008","s":"a","v":98},{"q":"IV 2008","s":"a","v":100},{"q":"I 2009","s":"a","v":99},{"q":"II 2009","s":"a","v":93},{"q":"III 2009","s":"a","v":93.5},{"q":"IV 2009","s":"a","v":93},{"q":"I 2010","s":"a","v":93},{"q":"II 2010","s":"a","v":92.5},{"q":"III 2010","s":"a","v":89},{"q":"IV 2010","s":"a","v":87.5},{"q":"I 2011","s":"a","v":87},{"q":"II 2011","s":"a","v":84},{"q":"III 2011","s":"a","v":79},{"q":"IV 2011","s":"a","v":77},{"q":"I 2012","s":"a","v":76},{"q":"II 2012","s":"a","v":74},{"q":"III 2012","s":"a","v":71},{"q":"IV 2012","s":"a","v":68},{"q":"I 2013","s":"a","v":65},{"q":"II 2013","s":"a","v":62.5},{"q":"III 2013","s":"a","v":59.5},{"q":"IV 2013","s":"a","v":59},{"q":"I 2014","s":"a","v":59},{"q":"II 2014","s":"a","v":58},{"q":"III 2014","s":"a","v":57.5},{"q":"IV 2014","s":"a","v":58},
{"q":"II 2008","s":"b","v":100},{"q":"III 2008","s":"b","v":100},{"q":"IV 2008","s":"b","v":101},{"q":"I 2009","s":"b","v":102},{"q":"II 2009","s":"b","v":103},{"q":"III 2009","s":"b","v":109},{"q":"IV 2009","s":"b","v":110},{"q":"I 2010","s":"b","v":109},{"q":"II 2010","s":"b","v":110},{"q":"III 2010","s":"b","v":108},{"q":"IV 2010","s":"b","v":115},{"q":"I 2011","s":"b","v":115.5},{"q":"II 2011","s":"b","v":119},{"q":"III 2011","s":"b","v":121},{"q":"IV 2011","s":"b","v":121.5},{"q":"I 2012","s":"b","v":123},{"q":"II 2012","s":"b","v":112},{"q":"III 2012","s":"b","v":108},{"q":"IV 2012","s":"b","v":105},{"q":"I 2013","s":"b","v":101},{"q":"II 2013","s":"b","v":93},{"q":"III 2013","s":"b","v":84},{"q":"IV 2013","s":"b","v":81},{"q":"I 2014","s":"b","v":79},{"q":"II 2014","s":"b","v":77.5},{"q":"III 2014","s":"b","v":77},{"q":"IV 2014","s":"b","v":75},{"q":"I 2015","s":"b","v":74.5},{"q":"II 2015","s":"b","v":75},
{"q":"III 2005","s":"c","v":57},{"q":"IV 2005","s":"c","v":57.5},{"q":"I 2006","s":"c","v":58},{"q":"II 2006","s":"c","v":57.5},{"q":"III 2006","s":"c","v":65},{"q":"IV 2006","s":"c","v":68},{"q":"I 2007","s":"c","v":68},{"q":"II 2007","s":"c","v":71},{"q":"III 2007","s":"c","v":79},{"q":"IV 2007","s":"c","v":92},{"q":"I 2008","s":"c","v":95},{"q":"II 2008","s":"c","v":100},{"q":"III 2008","s":"c","v":100},{"q":"IV 2008","s":"c","v":101},{"q":"I 2009","s":"c","v":96},{"q":"II 2009","s":"c","v":91},{"q":"III 2009","s":"c","v":92},{"q":"IV 2009","s":"c","v":87},{"q":"I 2010","s":"c","v":82},{"q":"II 2010","s":"c","v":80},{"q":"III 2010","s":"c","v":78.5},{"q":"IV 2010","s":"c","v":80},{"q":"I 2011","s":"c","v":82},{"q":"II 2011","s":"c","v":84},{"q":"III 2011","s":"c","v":85.5},{"q":"IV 2011","s":"c","v":85.5},{"q":"I 2012","s":"c","v":84},{"q":"II 2012","s":"c","v":75},{"q":"III 2012","s":"c","v":71},{"q":"IV 2012","s":"c","v":68.5},{"q":"I 2013","s":"c","v":65},{"q":"II 2013","s":"c","v":61.5},{"q":"III 2013","s":"c","v":58},{"q":"IV 2013","s":"c","v":53},{"q":"I 2014","s":"c","v":49.5},
{"q":"III 2005","s":"d","v":86},{"q":"IV 2005","s":"d","v":86.5},{"q":"I 2006","s":"d","v":87},{"q":"II 2006","s":"d","v":87.5},{"q":"III 2006","s":"d","v":88},{"q":"IV 2006","s":"d","v":89},{"q":"I 2007","s":"d","v":89},{"q":"II 2007","s":"d","v":94},{"q":"III 2007","s":"d","v":92},{"q":"IV 2007","s":"d","v":105},{"q":"I 2008","s":"d","v":108},{"q":"II 2008","s":"d","v":100},{"q":"III 2008","s":"d","v":98},{"q":"IV 2008","s":"d","v":116},{"q":"I 2009","s":"d","v":126.5},{"q":"II 2009","s":"d","v":111.5},{"q":"III 2009","s":"d","v":111},{"q":"IV 2009","s":"d","v":105},{"q":"I 2010","s":"d","v":99},{"q":"II 2010","s":"d","v":103},{"q":"III 2010","s":"d","v":107},{"q":"IV 2010","s":"d","v":101},{"q":"I 2011","s":"d","v":100},{"q":"II 2011","s":"d","v":105.5},{"q":"III 2011","s":"d","v":111},{"q":"IV 2011","s":"d","v":102},{"q":"I 2012","s":"d","v":95.5},{"q":"II 2012","s":"d","v":99},{"q":"III 2012","s":"d","v":94},{"q":"IV 2012","s":"d","v":88.5},{"q":"I 2013","s":"d","v":87},{"q":"II 2013","s":"d","v":97},{"q":"III 2013","s":"d","v":102},{"q":"IV 2013","s":"d","v":95},{"q":"I 2014","s":"d","v":84.5},{"q":"II 2014","s":"d","v":85},{"q":"III 2014","s":"d","v":77},{"q":"IV 2014","s":"d","v":72},{"q":"I 2015","s":"d","v":68.5},{"q":"II 2015","s":"d","v":59},
{"q":"II 2008","s":"e","v":100},{"q":"III 2008","s":"e","v":101.5},{"q":"IV 2008","s":"e","v":102},{"q":"I 2009","s":"e","v":102.5},{"q":"II 2009","s":"e","v":103},{"q":"III 2009","s":"e","v":104.5},{"q":"IV 2009","s":"e","v":105},{"q":"I 2010","s":"e","v":105.5},{"q":"II 2010","s":"e","v":106},{"q":"III 2010","s":"e","v":106.5},{"q":"IV 2010","s":"e","v":116.5},{"q":"I 2011","s":"e","v":120.5},{"q":"II 2011","s":"e","v":124},{"q":"III 2011","s":"e","v":131},{"q":"IV 2011","s":"e","v":132.5},{"q":"I 2012","s":"e","v":129.5},{"q":"II 2012","s":"e","v":142},{"q":"III 2012","s":"e","v":140.5},{"q":"IV 2012","s":"e","v":142},{"q":"I 2013","s":"e","v":143.5},{"q":"II 2013","s":"e","v":141},{"q":"III 2013","s":"e","v":139.5},{"q":"IV 2013","s":"e","v":137},{"q":"I 2014","s":"e","v":138},{"q":"II 2014","s":"e","v":137},{"q":"III 2014","s":"e","v":126.5},{"q":"IV 2014","s":"e","v":133},{"q":"I 2015","s":"e","v":133},{"q":"II 2015","s":"e","v":124}
  ]},
  "mark":{"type":"line","strokeWidth":2.7,"strokeJoin":"round"},
  "encoding":{
   "x":{"field":"q","type":"ordinal","sort":null,"scale":{"type":"point","padding":0.339,"align":0.186},"axis":{"values":["III 2005","I 2006","III 2006","I 2007","III 2007","I 2008","III 2008","I 2009","III 2009","I 2010","III 2010","I 2011","III 2011","I 2012","III 2012","I 2013","III 2013","I 2014","III 2014","I 2015"],"labelAngle":-90,"labelFontSize":11.5,"labelPadding":4,"tickSize":5,"title":null,"grid":false}},
   "y":{"field":"v","type":"quantitative","scale":{"domain":[40,160],"nice":false,"zero":false},"axis":{"values":[40,60,80,100,120,140,160],"tickCount":50,"title":null,"grid":true,"gridColor":"#bdbdbd","ticks":false,"labelPadding":12}},
   "color":{"field":"s","type":"nominal","scale":{"domain":["a","b","c","d","e"],"range":["#136e5c","#4f2c76","#5cc0d6","#6c6c6c","#3fab98"]},
     "legend":{"orient":"none","legendX":36.25,"legendY":230.5,"direction":"vertical","title":null,"symbolType":"M-4.5,0H1","symbolSize":121,"symbolStrokeWidth":3,"labelFontSize":13,"labelOffset":2,"rowPadding":6,
      "labelExpr":"datum.label=='a' ? 'Skarbiec-Rynku Nieruchomości FIZ' : datum.label=='b' ? 'Arka BZ WBK Fundusz Rynku Nieruchomości 2 FIZ' : datum.label=='c' ? 'Arka BZ WBK Fundusz Rynku Nieruchomości 1 FIZ' : datum.label=='d' ? 'BPH FIZ Sektora Nieruchomości 1' : 'BPH FIZ Sektora Nieruchomości 2'"}}
  }
 },
 {
  "width":410,"height":475,
  "layer":[
   {"data":{"values":[
    {"n":0,"t":"Uwaga: wartości powyżej 1 oznacza większą opłacalność inwesty-"},
    {"n":1,"t":"cji w mieszkanie na wynajem osobom trzecim, od lokowania"},
    {"n":2,"t":"kapitału w innych inwestycjach. Analiza ta nie uwzględnia wyso-"},
    {"n":3,"t":"kich kosztów transakcyjnych na rynku mieszkaniowym oraz"},
    {"n":4,"t":"potencjalne długiego czasu wychodzenia z takiej inwestycji."}]},
    "mark":{"type":"text","align":"left","baseline":"middle","fontSize":16.8,"dx":-39},
    "encoding":{"x":{"datum":0,"scale":{"domain":[0,1]},"axis":null},"y":{"field":"n","type":"quantitative","scale":{"domain":[-7.238,15.381],"reverse":true,"nice":false,"zero":false},"axis":null},"text":{"field":"t"}}},
   {"data":{"values":[{"n":0,"t":"Źródło: NBP, GUS."}]},
    "mark":{"type":"text","align":"left","baseline":"middle","fontSize":16.8,"fontStyle":"italic","dx":-40},
    "encoding":{"x":{"datum":0},"y":{"field":"n","type":"quantitative","scale":{"domain":[-258,217],"reverse":true,"nice":false,"zero":false},"axis":null},"text":{"field":"t"}}}
  ],
  "resolve":{"scale":{"y":"independent"}}
 },
 {
  "width":419,"height":475,
  "layer":[
   {"data":{"values":[
    {"n":0,"t":"Uwaga: w przypadku funduszy Arka BZ WBK oraz Skarbiec"},
    {"n":1,"t":"wycena dotyczy końca stycznia, kwietnia, lipca oraz października"},
    {"n":2,"t":"a prezentowana jest jako kwartalna."}]},
    "mark":{"type":"text","align":"left","baseline":"middle","fontSize":16.8,"dx":-44},
    "encoding":{"x":{"datum":0,"scale":{"domain":[0,1]},"axis":null},"y":{"field":"n","type":"quantitative","scale":{"domain":[-7.238,15.381],"reverse":true,"nice":false,"zero":false},"axis":null},"text":{"field":"t"}}},
   {"data":{"values":[{"n":0,"t":"Źródło: strony internetowe funduszy inwestycji zamkniętych."}]},
    "mark":{"type":"text","align":"left","baseline":"middle","fontSize":16.8,"fontStyle":"italic","dx":-44},
    "encoding":{"x":{"datum":0},"y":{"field":"n","type":"quantitative","scale":{"domain":[-217,258],"reverse":true,"nice":false,"zero":false},"axis":null},"text":{"field":"t"}}}
  ],
  "resolve":{"scale":{"y":"independent"}}
 }
 ]
},
{
 "width":897,"height":34,
 "layer":[
  {"data":{"values":[{"n":0,"t":"10"}]},
   "mark":{"type":"text","align":"left","baseline":"middle","fontSize":16,"dx":-28},
   "encoding":{"x":{"datum":0,"scale":{"domain":[0,1]},"axis":null},"y":{"field":"n","type":"quantitative","scale":{"domain":[-20,14],"reverse":true,"nice":false,"zero":false},"axis":null},"text":{"field":"t"}}},
  {"data":{"values":[{"n":0,"t":"Narodowy Bank Polski"}]},
   "mark":{"type":"text","align":"right","baseline":"middle","fontSize":17,"color":"#1b6b5b","dx":-42},
   "encoding":{"x":{"datum":1},"y":{"field":"n","type":"quantitative","scale":{"domain":[-16,18],"reverse":true,"nice":false,"zero":false},"axis":null},"text":{"field":"t"}}}
 ],
 "resolve":{"scale":{"y":"independent"}}
}
]
}
